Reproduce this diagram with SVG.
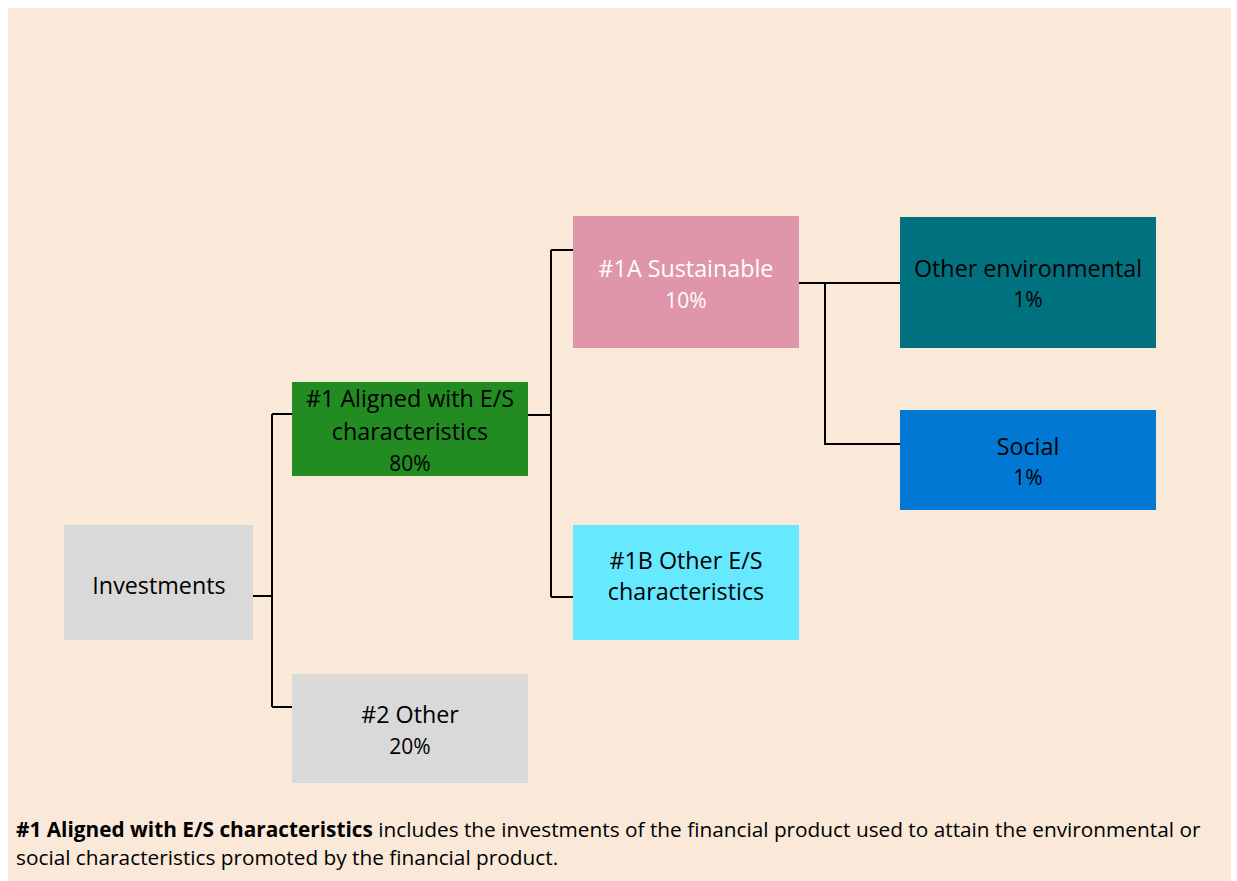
<svg xmlns="http://www.w3.org/2000/svg" width="1237" height="881" viewBox="0 0 1237 881">
<style>
text{font-family:"Open Sans","Liberation Sans",Arial,sans-serif;text-anchor:middle}
.l{font-size:23.3px}
.p{font-size:21px}
.w{fill:#ffffff}
.k{fill:#000000}
.c{fill:none;stroke:#000;stroke-width:2}
.f{font-size:20.8px;text-anchor:start}
</style>
<rect x="0" y="0" width="1237" height="881" fill="#ffffff"/>
<rect x="8" y="8" width="1223" height="873" fill="#FAE8D8"/>
<g id="connectors" class="c">
<path d="M253 596H272M272 414V707M272 414H292M272 707H292"/>
<path d="M528 415H551M551 250V597M551 250H573M551 597H573"/>
<path d="M799 283H900M825 283V444H900"/>
</g>
<g id="investments"><rect x="64" y="525" width="189" height="115" fill="#D9D9D9"/><text class="l k" x="159" y="594">Investments</text></g>
<g id="aligned"><rect x="292" y="382" width="236" height="94" fill="#228B22"/><text class="l k" x="410" y="407">#1 Aligned with E/S</text><text class="l k" x="410" y="440">characteristics</text><text class="p k" x="410" y="471">80%</text></g>
<g id="other"><rect x="292" y="674" width="236" height="109" fill="#D9D9D9"/><text class="l k" x="410" y="723">#2 Other</text><text class="p k" x="410" y="754">20%</text></g>
<g id="sustainable"><rect x="573" y="216" width="226" height="132" fill="#E096AA"/><text class="l w" x="686" y="277">#1A Sustainable</text><text class="p w" x="686" y="308">10%</text></g>
<g id="otheres"><rect x="573" y="525" width="226" height="115" fill="#66E8FF"/><text class="l k" x="686" y="569">#1B Other E/S</text><text class="l k" x="686" y="600">characteristics</text></g>
<g id="otherenv"><rect x="900" y="217" width="256" height="131" fill="#00727F"/><text class="l k" x="1028" y="277">Other environmental</text><text class="p k" x="1028" y="307">1%</text></g>
<g id="social"><rect x="900" y="410" width="256" height="100" fill="#0078D4"/><text class="l k" x="1028" y="455">Social</text><text class="p k" x="1028" y="485">1%</text></g>
<g id="footer"><text class="f k" x="16" y="837"><tspan font-weight="bold">#1 Aligned with E/S characteristics</tspan> includes the investments of the financial product used to attain the environmental or</text><text class="f k" x="16" y="865">social characteristics promoted by the financial product.</text></g>
</svg>
